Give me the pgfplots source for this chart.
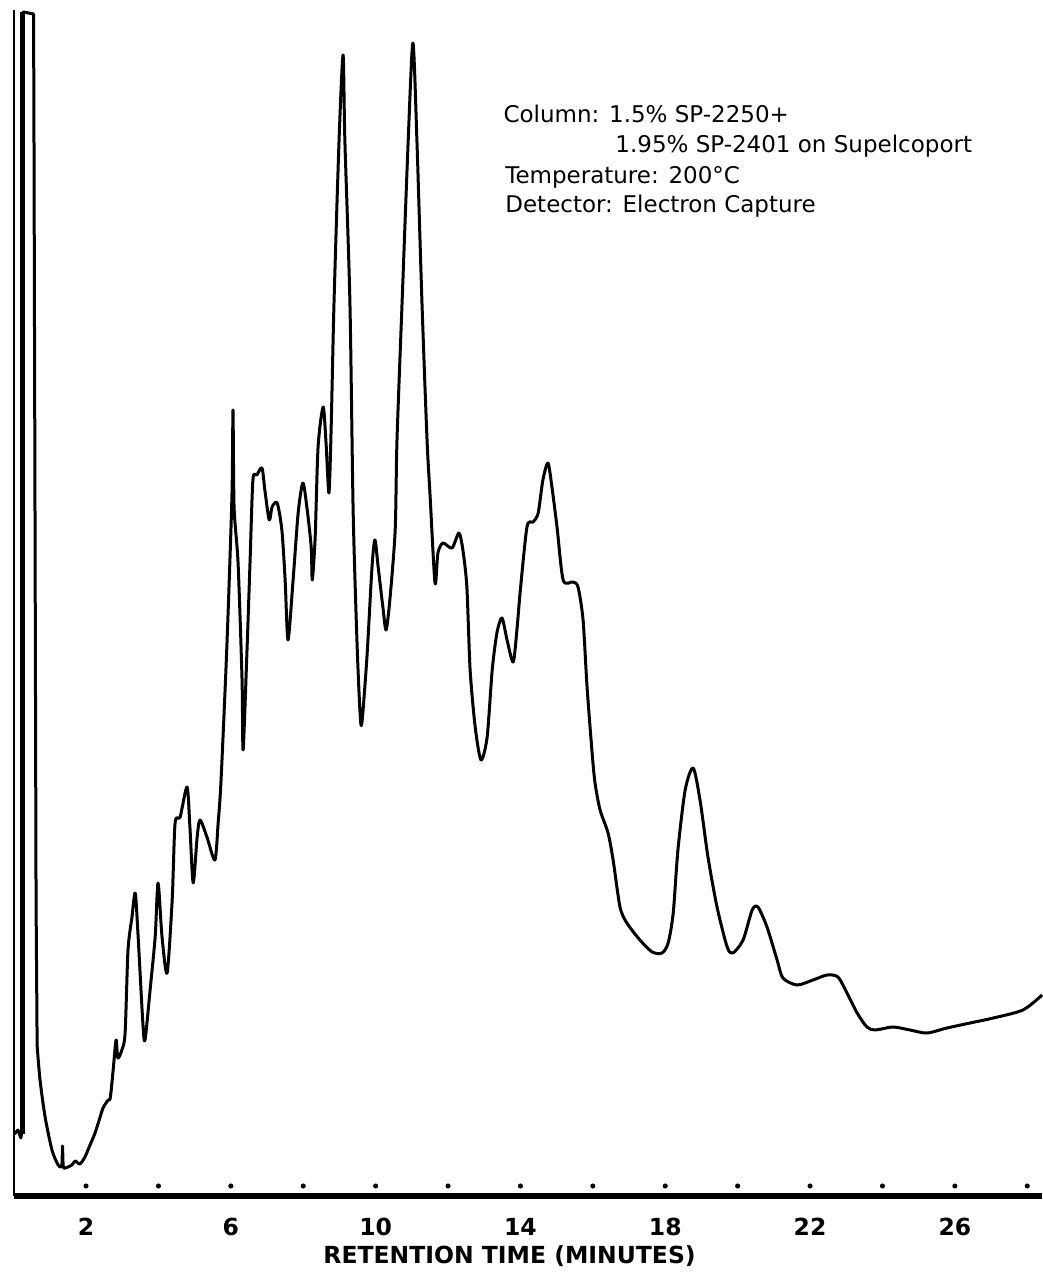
\documentclass[border=0pt]{standalone}
\usepackage{fontspec}
\setmainfont{DejaVu Sans}
\usepackage{pgfplots}
\pgfplotsset{compat=1.18}
\begin{document}
\begin{tikzpicture}
\begin{axis}[
  scale only axis, width=411.4pt, height=474.4pt,
  xmin=0, xmax=28.41, ymin=0, ymax=1186,
  axis x line=bottom, axis y line=left,
  x axis line style={-, line width=2.4pt},
  y axis line style={-, line width=0.8pt},
  ytick=\empty,
  xtick={2,6,10,14,18,22,26},
  xticklabels={2,6,10,14,18,22,26},
  major tick length=0pt,
  xticklabel style={font=\fontsize{9.4}{11}\selectfont\bfseries, anchor=center, yshift=-12.5pt},
  xlabel={RETENTION TIME (MINUTES)},
  xlabel style={at={(axis cs:13.7,-60)}, anchor=center, font=\fontsize{9.4}{11}\selectfont\bfseries},
  clip=false,
]
% solvent front (off scale)
\addplot[black, line width=2pt] coordinates {(0.25,62) (0.25,1184)};
\addplot[black, line width=1.2pt, line join=round] coordinates {
(0.02,62) (0.12,66) (0.2,58) (0.25,70) (0.27,1184) (0.55,1182) (0.56,1096) (0.59,696) (0.62,296) (0.65,150)
};
% chromatogram trace
\addplot[black, line width=1.2pt, line join=round, smooth, tension=0.45] coordinates {
(0.65,150) (0.73,116) (0.87,79) (1.06,46) (1.23,31) (1.33,30) (1.35,50) (1.37,30) (1.42,28) (1.61,31) (1.70,35) (1.83,32) (1.97,39) (2.11,51) (2.25,63) (2.39,79) (2.47,88) (2.61,96) (2.67,98) (2.75,126) (2.83,156) (2.88,138) (2.99,146) (3.08,163) (3.16,246) (3.27,279) (3.36,303) (3.44,259) (3.57,173) (3.63,156) (3.77,206) (3.91,259) (3.99,313) (4.10,259) (4.24,223) (4.38,296) (4.46,373) (4.60,379) (4.79,409) (4.87,369) (4.96,313) (5.07,359) (5.15,376) (5.34,359) (5.56,336) (5.65,373) (5.73,416) (5.89,549) (6.03,699) (6.06,786) (6.09,689) (6.20,633) (6.31,516) (6.34,446) (6.45,549) (6.53,633) (6.61,716) (6.72,721) (6.86,728) (6.94,706) (7.06,676) (7.14,689) (7.28,693) (7.41,666) (7.50,616) (7.58,556) (7.72,616) (7.86,683) (7.99,713) (8.10,689) (8.22,649) (8.25,616) (8.33,659) (8.41,749) (8.55,789) (8.63,753) (8.71,703) (8.77,766) (8.85,893) (8.99,1056) (9.10,1141) (9.15,1056) (9.29,893) (9.38,683) (9.49,549) (9.57,483) (9.62,473) (9.76,539) (9.90,629) (9.98,656) (10.07,629) (10.20,589) (10.29,566) (10.40,599) (10.54,666) (10.59,756) (10.73,893) (10.90,1056) (11.03,1153) (11.14,1056) (11.28,893) (11.42,756) (11.50,703) (11.64,613) (11.72,643) (11.86,653) (12.11,648) (12.30,663) (12.41,646) (12.52,609) (12.61,526) (12.75,469) (12.91,436) (13.08,459) (13.22,526) (13.35,563) (13.49,578) (13.63,556) (13.80,534) (13.91,569) (13.99,603) (14.18,669) (14.35,674) (14.49,683) (14.62,716) (14.76,733) (14.87,709) (15.01,669) (15.18,616) (15.45,614) (15.59,609) (15.73,576) (15.84,509) (15.98,443) (16.06,413) (16.20,386) (16.42,363) (16.56,336) (16.75,289) (16.94,273) (17.30,256) (17.64,244) (17.91,243) (18.08,253) (18.22,283) (18.35,346) (18.55,406) (18.77,428) (18.96,396) (19.18,339) (19.43,289) (19.71,249) (19.87,243) (20.15,256) (20.40,286) (20.56,289) (20.81,269) (21.09,236) (21.25,218) (21.64,211) (22.08,216) (22.47,221) (22.77,219) (23.02,203) (23.30,183) (23.57,169) (23.80,166) (24.29,169) (24.76,166) (25.23,163) (25.78,168) (26.42,173) (27.06,178) (27.88,186) (28.41,201)
};
% time marks every 2 minutes
\addplot[black, only marks, mark=*, mark size=0.8pt] coordinates {
(2,10) (4,10) (6,10) (8,10) (10,10) (12,10) (14,10) (16,10) (18,10) (20,10) (22,10) (24,10) (26,10) (28,10)
};
\node[anchor=west, inner sep=0pt, font=\fontsize{9.2}{11}\selectfont] at (axis cs:13.52,1082) {Column: 1.5\% SP-2250+};
\node[anchor=west, inner sep=0pt, font=\fontsize{9.2}{11}\selectfont] at (axis cs:16.61,1050) {1.95\% SP-2401 on Supelcoport};
\node[anchor=west, inner sep=0pt, font=\fontsize{9.2}{11}\selectfont] at (axis cs:13.57,1019) {Temperature: 200°C};
\node[anchor=west, inner sep=0pt, font=\fontsize{9.2}{11}\selectfont] at (axis cs:13.57,990) {Detector: Electron Capture};
\coordinate (bl) at (axis cs:-0.376,-86);
\coordinate (tr) at (axis cs:28.41,1196);
\end{axis}
\pgfresetboundingbox
\useasboundingbox (bl) rectangle (tr);
\end{tikzpicture}
\end{document}
